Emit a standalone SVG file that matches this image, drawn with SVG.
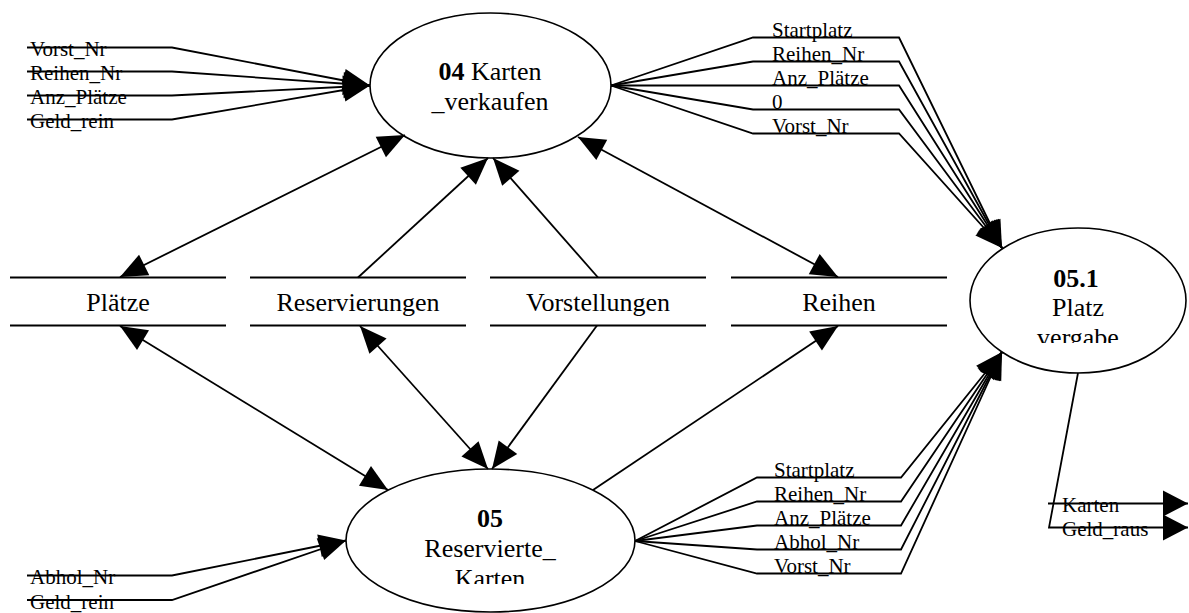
<svg xmlns="http://www.w3.org/2000/svg" width="1189" height="613" viewBox="0 0 1189 613">
  <style>
    .proc { fill: #fff; stroke: #000; stroke-width: 1.6; }
    .store { stroke: #000; stroke-width: 2; }
    .big { font-family: "Liberation Serif", "Times New Roman", serif; font-size: 26px; fill: #000; }
    .lbl { font-family: "Liberation Serif", "Times New Roman", serif; font-size: 21px; fill: #000; }
    .b { font-weight: bold; }
    .flow { fill: none; stroke: #000; stroke-width: 1.8; }
    .one { marker-end: url(#arrow); }
    .two { marker-start: url(#arrow); marker-end: url(#arrow); }
    .out { marker-end: url(#arrowWide); }
  </style>
  <defs>
    <marker id="arrow" markerUnits="userSpaceOnUse" viewBox="-28 -13 30 26" markerWidth="30" markerHeight="26" refX="0" refY="0" orient="auto-start-reverse">
      <path d="M0,0 L-27,-11.5 L-27,11.5 Z" fill="#000"/>
    </marker>
    <marker id="arrowWide" markerUnits="userSpaceOnUse" viewBox="-27 -14 28 28" markerWidth="28" markerHeight="28" refX="0" refY="0" orient="auto">
      <path d="M0,0 L-25,-13 L-25,13 Z" fill="#000"/>
    </marker>
    <clipPath id="clip051"><rect x="960" y="228" width="229" height="115"/></clipPath>
    <clipPath id="clip05"><rect x="340" y="465" width="300" height="119"/></clipPath>
  </defs>

  <rect width="1189" height="613" fill="#fff"/>

  <!-- processes -->
  <g id="p04">
    <ellipse class="proc" cx="490.5" cy="85.5" rx="120.5" ry="72.5"/>
    <text class="big" x="490" y="80" text-anchor="middle"><tspan class="b">04</tspan> Karten</text>
    <text class="big" x="490" y="110" text-anchor="middle">_verkaufen</text>
  </g>
  <g id="p05">
    <ellipse class="proc" cx="490.5" cy="540.5" rx="144.5" ry="71.5"/>
    <text class="big b" x="490" y="527" text-anchor="middle">05</text>
    <text class="big" x="490" y="557" text-anchor="middle">Reservierte_</text>
    <text class="big" x="490" y="587" text-anchor="middle" clip-path="url(#clip05)">Karten</text>
  </g>
  <g id="p051">
    <ellipse class="proc" cx="1078" cy="300.5" rx="108" ry="72.5"/>
    <text class="big b" x="1076" y="286.5" text-anchor="middle">05.1</text>
    <text class="big" x="1078" y="316" text-anchor="middle">Platz</text>
    <text class="big" x="1078" y="346" text-anchor="middle" clip-path="url(#clip051)">vergabe</text>
  </g>

  <!-- data stores -->
  <g id="s-plaetze">
    <line class="store" x1="10" y1="277.5" x2="226" y2="277.5"/>
    <line class="store" x1="10" y1="325.5" x2="226" y2="325.5"/>
    <text class="big" x="118" y="311" text-anchor="middle">Plätze</text>
  </g>
  <g id="s-reservierungen">
    <line class="store" x1="250" y1="277.5" x2="466" y2="277.5"/>
    <line class="store" x1="250" y1="325.5" x2="466" y2="325.5"/>
    <text class="big" x="358" y="311" text-anchor="middle">Reservierungen</text>
  </g>
  <g id="s-vorstellungen">
    <line class="store" x1="490" y1="277.5" x2="706" y2="277.5"/>
    <line class="store" x1="490" y1="325.5" x2="706" y2="325.5"/>
    <text class="big" x="598" y="311" text-anchor="middle">Vorstellungen</text>
  </g>
  <g id="s-reihen">
    <line class="store" x1="731" y1="277.5" x2="947" y2="277.5"/>
    <line class="store" x1="731" y1="325.5" x2="947" y2="325.5"/>
    <text class="big" x="839" y="311" text-anchor="middle">Reihen</text>
  </g>

  <!-- flows -->
  <g id="flows">
    <!-- stores to and from 04 -->
    <path class="flow two" d="M405,135 L120,277"/>
    <path class="flow one" d="M358,277.5 L488,158"/>
    <path class="flow one" d="M598,277.5 L493,158"/>
    <path class="flow two" d="M578,137 L838,277"/>
    <!-- stores to and from 05 -->
    <path class="flow two" d="M388,490 L120,326"/>
    <path class="flow two" d="M360,326 L488,469"/>
    <path class="flow one" d="M597,325.5 L492,469"/>
    <path class="flow one" d="M593,490 L838,326"/>

    <!-- inputs of 04 -->
    <path class="flow one" d="M27,47.5 H172 L370,85.5"/>
    <path class="flow one" d="M27,71.5 H172 L370,85.5"/>
    <path class="flow one" d="M27,95.5 H172 L370,85.5"/>
    <path class="flow one" d="M27,119.5 H172 L370,85.5"/>
    <text class="lbl" x="30" y="56">Vorst_Nr</text>
    <text class="lbl" x="30" y="80">Reihen_Nr</text>
    <text class="lbl" x="30" y="104">Anz_Plätze</text>
    <text class="lbl" x="30" y="128">Geld_rein</text>

    <!-- inputs of 05 -->
    <path class="flow one" d="M27,575.5 H172 L346,540.5"/>
    <path class="flow one" d="M27,600 H172 L346,540.5"/>
    <text class="lbl" x="30" y="584">Abhol_Nr</text>
    <text class="lbl" x="30" y="608.5">Geld_rein</text>

    <!-- 04 to 05.1 -->
    <path class="flow one" d="M611,85.5 L753,37.5 H899 L1002,248"/>
    <path class="flow one" d="M611,85.5 L753,61.5 H899 L1002,248"/>
    <path class="flow one" d="M611,85.5 L753,85.5 H899 L1002,248"/>
    <path class="flow one" d="M611,85.5 L753,109.5 H899 L1002,248"/>
    <path class="flow one" d="M611,85.5 L753,133.5 H899 L1002,248"/>
    <text class="lbl" x="772" y="36.5">Startplatz</text>
    <text class="lbl" x="772" y="60.5">Reihen_Nr</text>
    <text class="lbl" x="772" y="84.5">Anz_Plätze</text>
    <text class="lbl" x="772" y="108.5">0</text>
    <text class="lbl" x="772" y="132.5">Vorst_Nr</text>

    <!-- 05 to 05.1 -->
    <path class="flow one" d="M635,541 L757,477.5 H901 L1002,352"/>
    <path class="flow one" d="M635,541 L757,501.5 H901 L1002,352"/>
    <path class="flow one" d="M635,541 L757,525.5 H901 L1002,352"/>
    <path class="flow one" d="M635,541 L757,549.5 H901 L1002,352"/>
    <path class="flow one" d="M635,541 L757,573.5 H901 L1002,352"/>
    <text class="lbl" x="774" y="476.5">Startplatz</text>
    <text class="lbl" x="774" y="500.5">Reihen_Nr</text>
    <text class="lbl" x="774" y="524.5">Anz_Plätze</text>
    <text class="lbl" x="774" y="548.5">Abhol_Nr</text>
    <text class="lbl" x="774" y="572.5">Vorst_Nr</text>

    <!-- outputs of 05.1 -->
    <path class="flow out" d="M1078,373 L1049,527.5 H1188"/>
    <path class="flow out" d="M1048,503.5 H1188"/>
    <text class="lbl" x="1062" y="512">Karten</text>
    <text class="lbl" x="1062" y="536">Geld_raus</text>
  </g>
</svg>
